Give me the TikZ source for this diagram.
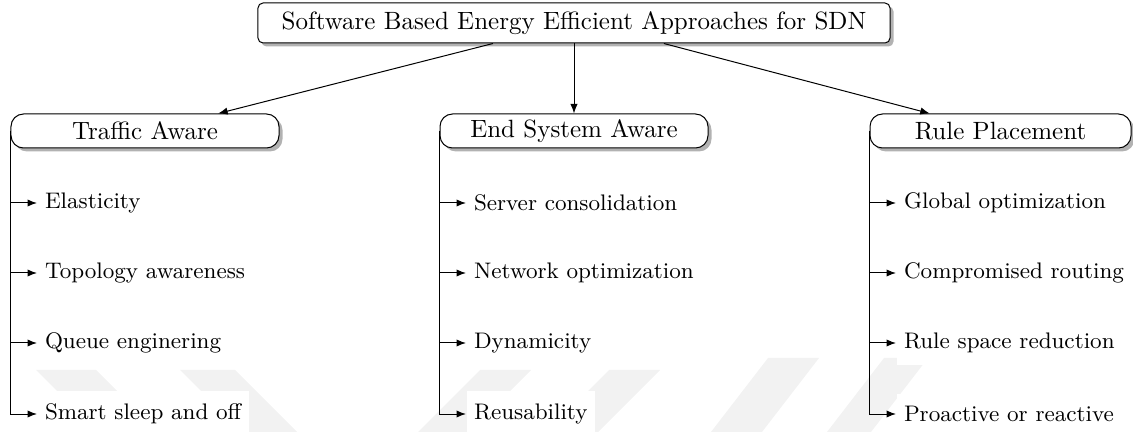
\documentclass[tikz,border=0pt]{standalone}
\usetikzlibrary{arrows.meta,shadows,calc}
\begin{document}
\begin{tikzpicture}[x=0.4pt,y=-0.4pt,
  line width=0.4pt,
  shade/.style={drop shadow={shadow xshift=1.4pt,shadow yshift=-1.4pt,fill=black!30,opacity=1}},
  rootbox/.style={draw,fill=white,rounded corners=2pt,shade,minimum width=252.8pt,minimum height=16pt,inner sep=0pt},
  catbox/.style={draw,fill=white,rounded corners=5pt,shade,minimum height=13.6pt,inner sep=0pt},
  item/.style={anchor=west,fill=white,inner xsep=3pt,inner ysep=5pt,font=\small},
  arr/.style={-{Latex[length=3.8pt,width=2.9pt]}},
  faint/.style={fill=black!5,draw=none}]
\useasboundingbox (0,0) rectangle (1133,432);

% faint diagonal bands in the lower part of the page
\fill[faint] (36,370) -- (96,370) -- (158,432) -- (98,432) -- cycle;
\fill[faint] (180,370) -- (235,370) -- (297,432) -- (242,432) -- cycle;
\fill[faint] (480,370) -- (531,370) -- (469,432) -- (418,432) -- cycle;
\fill[faint] (609,370) -- (660,370) -- (598,432) -- (547,432) -- cycle;
\fill[faint] (768,358) -- (819,358) -- (762,432) -- (711,432) -- cycle;
\fill[faint] (884,358) -- (928,358) -- (871,432) -- (827,432) -- cycle;

% root and categories
\node[rootbox] (root) at (574,23) {Software Based Energy Efficient Approaches for SDN};
\node[catbox,minimum width=107.2pt] (ta) at (145,131) {Traffic Aware};
\node[catbox,minimum width=107.2pt] (es) at (574,131) {End System Aware};
\node[catbox,minimum width=104.4pt] (rp) at (1000.5,131) {Rule Placement};

\draw[arr] ($(root.south west)!0.372!(root.south east)$) -- ($(ta.north west)!0.772!(ta.north east)$);
\draw[arr] (root.south) -- (es.north);
\draw[arr] ($(root.south west)!0.642!(root.south east)$) -- ($(rp.north west)!0.23!(rp.north east)$);

% Traffic Aware
\node[item] (ta1) at (37,203) {Elasticity};
\node[item] (ta2) at (37,273) {Topology awareness};
\node[item] (ta3) at (37,343) {Queue enginering};
\node[item] (ta4) at (37,414) {Smart sleep and off};

% End System Aware
\node[item] (es1) at (466,203) {Server consolidation};
\node[item] (es2) at (466,273) {Network optimization};
\node[item] (es3) at (466,343) {Dynamicity};
\node[item] (es4) at (466,414) {Reusability};

% Rule Placement
\node[item] (rp1) at (896,203) {Global optimization};
\node[item] (rp2) at (896,273) {Compromised routing};
\node[item] (rp3) at (896,343) {Rule space reduction};
\node[item] (rp4) at (896,414) {Proactive or reactive};

\foreach \c in {ta,es,rp}{
  \foreach \i in {1,...,4}{
    \draw[arr] (\c.west) |- (\c\i.west);
  }
}
\end{tikzpicture}
\end{document}
